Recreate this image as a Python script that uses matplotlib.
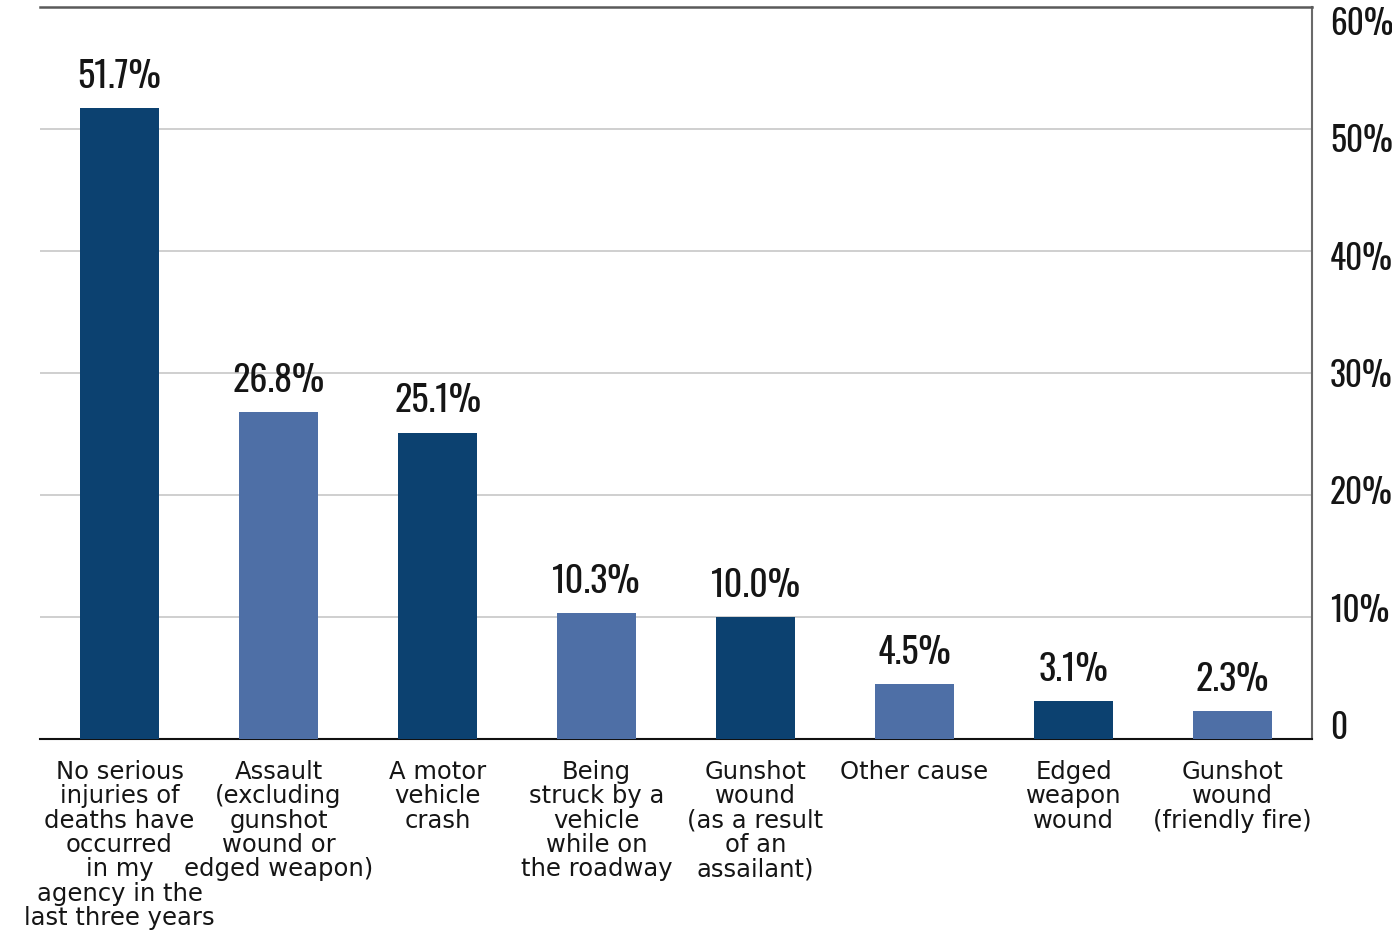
import numpy as np
import matplotlib
matplotlib.use('Agg')
import matplotlib.pyplot as plt
from matplotlib.transforms import ScaledTranslation

categories = ['No serious\ninjuries of\ndeaths have\noccurred\nin my\nagency in the\nlast three years',
              'Assault\n(excluding\ngunshot\nwound or\nedged weapon)',
              'A motor\nvehicle\ncrash',
              'Being\nstruck by a\nvehicle\nwhile on\nthe roadway',
              'Gunshot\nwound\n(as a result\nof an\nassailant)',
              'Other cause',
              'Edged\nweapon\nwound',
              'Gunshot\nwound\n(friendly fire)']
values = [51.7, 26.8, 25.1, 10.3, 10.0, 4.5, 3.1, 2.3]
value_labels = ['51.7%', '26.8%', '25.1%', '10.3%', '10.0%', '4.5%', '3.1%', '2.3%']
ytick_vals = [0, 10, 20, 30, 40, 50, 60]
ytick_labels = ['0', '10%', '20%', '30%', '40%', '50%', '60%']

dark = '#0c4170'
light = '#4e6fa6'
num_font = ['Oswald', 'Roboto Condensed', 'DejaVu Sans']
label_font = ['DejaVu Sans']

fig = plt.figure(figsize=(13.92, 9.38), dpi=100)
ax = fig.add_axes([40/1392, 199/938, 1272/1392, 732/938])

x = np.arange(len(values))
colors = [dark if i % 2 == 0 else light for i in range(len(values))]
ax.bar(x, values, width=0.5, color=colors, zorder=3)

for xi, v, lab in zip(x, values, value_labels):
    ax.text(xi, v + 1.1, lab, ha='center', va='bottom', fontsize=26,
            family=num_font, weight='semibold', color='#151515')

ax.set_xlim(-0.5, len(values) - 0.5)
ax.set_ylim(0, 60)
ax.set_yticks(ytick_vals)
ax.set_yticklabels(ytick_labels, family=num_font, weight='semibold', fontsize=24, color='#151515')
ax.yaxis.tick_right()
ax.tick_params(axis='y', length=0, pad=13)
ax.grid(axis='y', color='#cccccc', linewidth=1.3, zorder=0)

# the tick labels sit a little inside the axis range (0 raised, 60% lowered)
n = len(ytick_vals) - 1
for k, lab in enumerate(ax.get_yticklabels()):
    dy = (10 - 20 * k / n) / 72
    lab.set_transform(lab.get_transform() + ScaledTranslation(0, dy, fig.dpi_scale_trans))

ax.set_xticks(x)
ax.set_xticklabels(categories, family=label_font, fontsize=17.5, linespacing=1.02,
                   va='top', color='#151515')
ax.tick_params(axis='x', length=0, pad=15)

ax.spines['left'].set_visible(False)
ax.spines['top'].set_color('#5a5a5a')
ax.spines['top'].set_linewidth(1.8)
ax.spines['right'].set_color('#6a6a6a')
ax.spines['right'].set_linewidth(1.5)
ax.spines['bottom'].set_color('#111111')
ax.spines['bottom'].set_linewidth(1.5)

fig.savefig('out.png', dpi=100)
